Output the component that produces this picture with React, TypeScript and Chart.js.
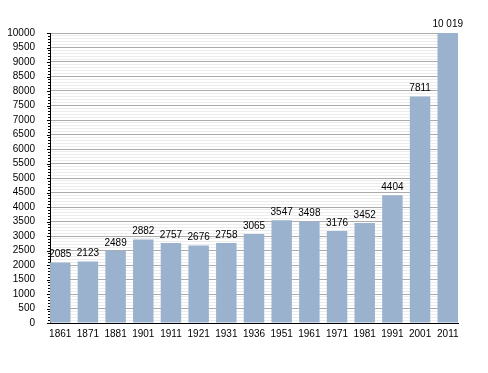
import React, { useEffect, useRef } from "react";
import { Chart, registerables } from "chart.js";

Chart.register(...registerables);

const years = ["1861", "1871", "1881", "1901", "1911", "1921", "1931", "1936", "1951", "1961", "1971", "1981", "1991", "2001", "2011"];
const population = [2085, 2123, 2489, 2882, 2757, 2676, 2758, 3065, 3547, 3498, 3176, 3452, 4404, 7811, 10019];
const yMax = 10000;
const yStep = 100;
const yLabelStep = 500;

const FONT = "'Liberation Sans', Arial, sans-serif";

function formatValue(v: number): string {
  const s = String(v);
  if (s.length <= 4) return s;
  return s.replace(/\B(?=(\d{3})+(?!\d))/g, " ");
}

const valueLabels = {
  id: "valueLabels",
  afterDatasetsDraw(chart: any) {
    const ctx = chart.ctx;
    const meta = chart.getDatasetMeta(0);
    ctx.save();
    ctx.font = `10px ${FONT}`;
    ctx.fillStyle = "#000";
    ctx.textAlign = "center";
    ctx.textBaseline = "bottom";
    meta.data.forEach((el: any, i: number) => {
      ctx.fillText(formatValue(population[i]), el.x, el.y - 3);
    });
    ctx.restore();
  },
};

const minorTicks = {
  id: "minorTicks",
  afterDraw(chart: any) {
    const y = chart.scales.y;
    const ctx = chart.ctx;
    const left = chart.chartArea.left;
    ctx.save();
    ctx.strokeStyle = "#000";
    ctx.lineWidth = 1;
    for (let v = 0; v <= yMax; v += yStep) {
      const py = Math.round(y.getPixelForValue(v)) + 0.5;
      const len = v % yLabelStep === 0 ? 3 : 2;
      ctx.beginPath();
      ctx.moveTo(left - len, py);
      ctx.lineTo(left, py);
      ctx.stroke();
    }
    ctx.restore();
  },
};

export default function App() {
  const ref = useRef<HTMLCanvasElement | null>(null);

  useEffect(() => {
    if (!ref.current) return;
    const chart = new Chart(ref.current, {
      type: "bar",
      data: {
        datasets: [
          {
            data: population.map((v, i) => ({ x: i, y: v })),
            backgroundColor: "rgb(155,178,206)",
            borderWidth: 0,
            barPercentage: 0.74,
            categoryPercentage: 1,
          },
        ],
      },
      plugins: [valueLabels, minorTicks],
      options: {
        responsive: false,
        animation: false,
        layout: { padding: { top: 33, right: 30, bottom: 0, left: 0 } },
        plugins: { legend: { display: false }, tooltip: { enabled: false } },
        scales: {
          x: {
            type: "linear",
            offset: false,
            min: -0.37,
            max: 14.37,
            afterBuildTicks: (scale: any) => {
              scale.ticks = years.map((_, i) => ({ value: i }));
            },
            afterFit: (scale: any) => {
              scale.height = 50;
            },
            grid: { display: false, drawTicks: false, offset: false },
            border: { display: true, color: "#000", width: 1 },
            ticks: {
              autoSkip: false,
              maxRotation: 0,
              padding: 5,
              color: "#000",
              font: { family: FONT, size: 10 },
              callback: (v: any) => years[v] ?? "",
            },
          },
          y: {
            min: 0,
            max: yMax,
            afterFit: (scale: any) => {
              scale.width = 50;
            },
            grid: {
              color: (c: any) => (c.tick && c.tick.value % yLabelStep === 0 ? "#ababab" : "#ececec"),
              drawTicks: false,
              lineWidth: 1,
            },
            border: { display: true, color: "#000", width: 1 },
            ticks: {
              stepSize: yStep,
              autoSkip: false,
              padding: 15,
              color: "#000",
              font: { family: FONT, size: 10 },
              callback: (v: any) => (v % yLabelStep === 0 ? String(v) : ""),
            },
          },
        },
      },
    });
    return () => chart.destroy();
  }, []);

  return (
    <div style={{ position: "fixed", left: 0, top: 0, width: 488, height: 373, background: "#fff" }}>
      <canvas ref={ref} width={488} height={373} />
    </div>
  );
}
